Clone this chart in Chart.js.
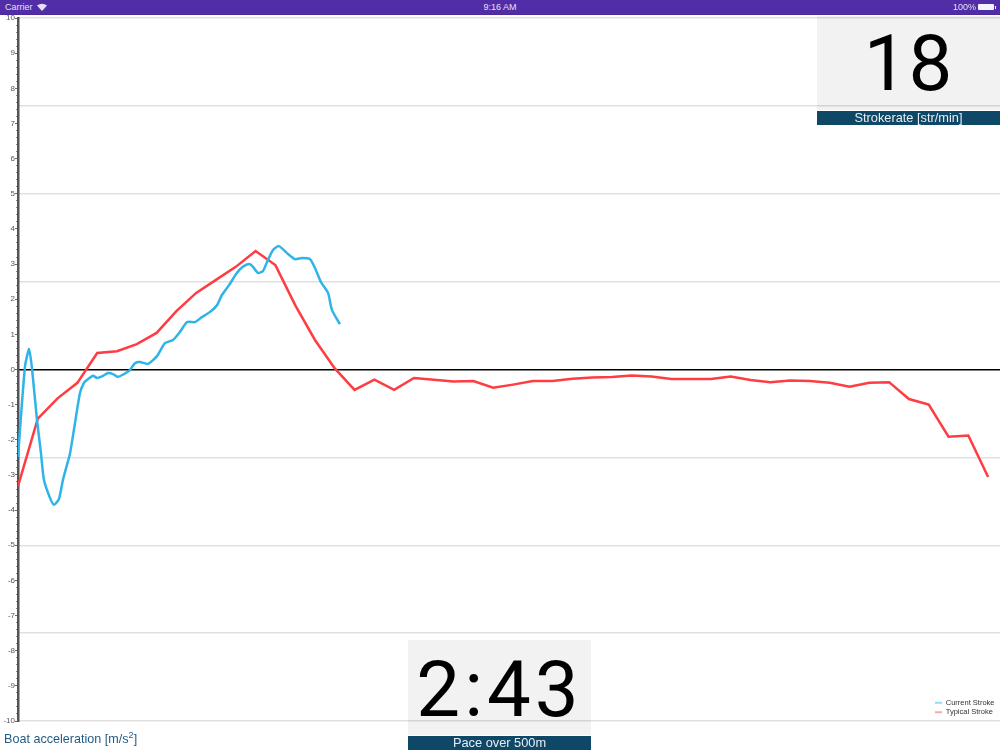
<!DOCTYPE html>
<html>
<head>
<meta charset="utf-8">
<script src="https://cdn.jsdelivr.net/npm/chart.js@4"></script>
<style>
html,body{margin:0;padding:0;background:#fff;width:1000px;height:750px;overflow:hidden;font-family:"Roboto","Liberation Sans",sans-serif}
#chart{position:absolute;left:0;top:0;width:1000px;height:750px}
.abs{position:absolute}
#status{left:0;top:0;width:1000px;height:14px;background:#512da8;border-bottom:1px solid #4a2a98;color:#e6e0f5;font:9px/14px "Liberation Sans",sans-serif}
.panel{background:rgba(0,0,0,.05);width:183px;color:#000;text-align:center;font-family:"Roboto";font-weight:400;font-size:78px}
.strip{background:#0f4767;color:#e8eef2;width:183px;text-align:center;font:12.8px/14px "Liberation Sans",sans-serif}
#title{left:4px;top:731px;color:#1f5c85;font:12.6px/16px "Liberation Sans",sans-serif}
#title sup{font-size:9px;line-height:0;vertical-align:5px}
</style>
</head>
<body>
<canvas id="chart" width="1000" height="750"></canvas>
<div class="abs" id="status">
  <span class="abs" style="left:5px;top:0">Carrier</span>
  <svg class="abs" style="left:37px;top:3px" width="10" height="8" viewBox="0 0 10 8"><path d="M5 8 L0 2.4 Q5 -1 10 2.4 Z" fill="#e6e0f5"/></svg>
  <span class="abs" style="left:0;width:1000px;text-align:center;top:0">9:16 AM</span>
  <span class="abs" style="left:953px;top:0">100%</span>
  <div class="abs" style="left:978px;top:4px;width:16px;height:6px;background:#f4f2fb;border-radius:1px"></div>
  <div class="abs" style="left:994.5px;top:6px;width:1px;height:3px;background:#f4f2fb"></div>
</div>
<div class="abs panel" style="left:817px;top:16px;height:94px;line-height:96px;letter-spacing:1px">18</div>
<div class="abs strip" style="left:817px;top:111px">Strokerate [str/min]</div>
<div class="abs panel" style="left:408px;top:640px;height:95px;line-height:99px;letter-spacing:4px">2:43</div>
<div class="abs strip" style="left:408px;top:736px">Pace over 500m</div>
<div class="abs" id="title">Boat acceleration [m/s<sup>2</sup>]</div>
<script>
const seriesNames = ["Current Stroke", "Typical Stroke"];
const typicalValues = [-3.32,-1.40,-0.82,-0.38,0.47,0.52,0.72,1.04,1.66,2.18,2.55,2.92,3.37,2.97,1.83,0.84,0.03,-0.58,-0.29,-0.58,-0.24,-0.29,-0.34,-0.33,-0.52,-0.43,-0.33,-0.33,-0.26,-0.23,-0.21,-0.17,-0.20,-0.27,-0.27,-0.27,-0.20,-0.30,-0.36,-0.31,-0.33,-0.38,-0.49,-0.38,-0.36,-0.84,-1.00,-1.91,-1.88,-3.06];
const currentPositions = [0,.35,.56,.71,.96,1.16,1.31,1.62,1.82,2.07,2.27,2.47,2.63,2.88,3.13,3.33,3.48,3.79,3.99,4.29,4.55,4.80,5.05,5.35,5.61,5.91,6.16,6.57,7.02,7.42,7.83,8.18,8.54,8.94,9.29,9.70,10.05,10.30,10.66,11.06,11.36,11.67,11.87,12.12,12.37,12.58,12.88,13.18,13.59,13.99,14.34,14.75,15.0,15.30,15.66,15.86,16.26];
const currentValues = [-2.49,0.07,0.58,0.01,-1.44,-2.38,-3.14,-3.66,-3.85,-3.68,-3.14,-2.72,-2.38,-1.52,-0.67,-0.38,-0.30,-0.18,-0.24,-0.18,-0.10,-0.13,-0.21,-0.13,-0.04,0.18,0.21,0.16,0.38,0.75,0.84,1.07,1.35,1.35,1.49,1.64,1.83,2.12,2.40,2.75,2.92,3.00,2.92,2.75,2.80,3.06,3.40,3.51,3.31,3.14,3.17,3.14,2.89,2.49,2.18,1.69,1.29];

const blue = "#2fb4e9", red = "#ff3c41";
const fixWidth = w => (s => { s.width = w; });
const legendPlace = {
  id: "legendPlace",
  afterLayout(chart) {
    const l = chart.legend;
    l.left = 933; l.right = 1000;
    l.top = 18; l.bottom = 718;
  }
};
new Chart(document.getElementById("chart"), {
  type: "line",
  data: { datasets: [
    { label: seriesNames[0], data: currentPositions.map((x,i)=>({x, y: currentValues[i]})), borderColor: blue, backgroundColor: blue, borderWidth: 2.5, pointRadius: 0, tension: 0.2, xAxisID:"x", yAxisID:"y" },
    { label: seriesNames[1], data: typicalValues.map((y,i)=>({x:i, y})), borderColor: red, backgroundColor: red, borderWidth: 2.5, pointRadius: 0, tension: 0, xAxisID:"x", yAxisID:"y" }
  ]},
  plugins: [legendPlace],
  options: {
    responsive: false, animation: false, events: [],
    layout: { padding: { left: 0, right: 0, top: 18, bottom: 29 } },
    plugins: {
      tooltip: { enabled: false },
      legend: {
        position: "chartArea", align: "end",
        labels: {
          boxWidth: 7, boxHeight: 2, padding: 2, color: "#333", font: { size: 7.5, family: "Liberation Sans" },
          generateLabels: c => c.data.datasets.map((d,i)=>({ text: d.label, fillStyle: i? "#ffa6aa":"#8fdaf5", strokeStyle: "transparent", lineWidth: 0, datasetIndex: i, fontColor:"#333" }))
        }
      }
    },
    scales: {
      x: { type: "linear", min: 0, max: 49.6, display: false },
      yGrid: {
        type: "linear", position: "left", min: -10, max: 10, afterFit: fixWidth(0),
        ticks: { stepSize: 2.5, display: false, autoSkip: false },
        border: { display: false },
        grid: { drawTicks: false, lineWidth: 1.5, color: c => c.tick.value === 0 ? "#000" : "#e0e0e0" }
      },
      yMinor: {
        type: "linear", position: "left", min: -10, max: 10, afterFit: fixWidth(0),
        ticks: { stepSize: 0.2, display: false, autoSkip: false },
        border: { display: false },
        grid: { drawOnChartArea: false, drawTicks: true, tickLength: 2, tickColor: "#888" }
      },
      y: {
        type: "linear", position: "left", min: -10, max: 10, afterFit: fixWidth(18),
        ticks: { stepSize: 1, autoSkip: false, padding: 0, color: "#555", font: { size: 8, family: "Liberation Sans" } },
        border: { display: true, color: "#555", width: 2.5 },
        grid: { drawOnChartArea: false, tickLength: 3, tickColor: "#666", tickWidth: 1 }
      }
    }
  }
});
</script>
</body>
</html>
